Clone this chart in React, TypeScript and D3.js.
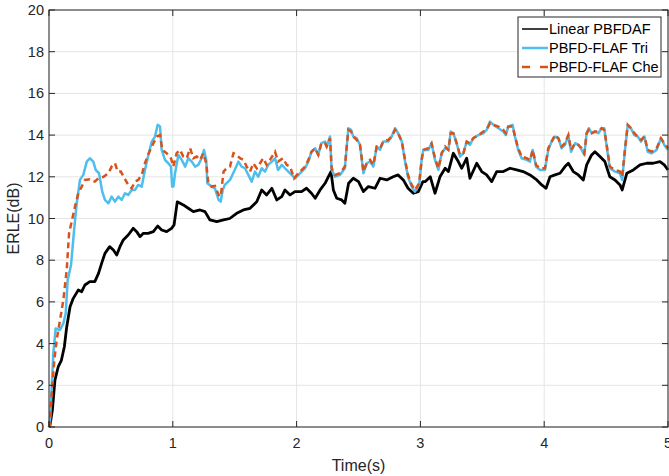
import React from "react";
import * as d3 from "d3";

const xTicks = [0, 1, 2, 3, 4, 5];
const yTicks = [0, 2, 4, 6, 8, 10, 12, 14, 16, 18, 20];
const seriesNames = ["Linear PBFDAF", "PBFD-FLAF Tri", "PBFD-FLAF Che"];

const linear: [number, number][] = [[0,0],[0.008,0.1],[0.027,0.8],[0.048,2.25],[0.075,2.9],[0.10,3.2],[0.124,3.85],[0.143,4.8],[0.17,5.77],[0.196,6.17],[0.237,6.57],[0.264,6.49],[0.29,6.81],[0.33,6.97],[0.37,6.97],[0.40,7.37],[0.425,7.85],[0.452,8.33],[0.49,8.65],[0.52,8.49],[0.547,8.25],[0.573,8.65],[0.60,8.97],[0.64,9.21],[0.68,9.53],[0.708,9.37],[0.735,9.13],[0.762,9.29],[0.80,9.29],[0.843,9.37],[0.878,9.64],[0.91,9.45],[0.95,9.37],[0.99,9.53],[1.01,9.69],[1.036,10.8],[1.085,10.65],[1.125,10.49],[1.166,10.33],[1.22,10.41],[1.26,10.33],[1.30,9.93],[1.355,9.85],[1.41,9.93],[1.46,10.0],[1.516,10.25],[1.57,10.41],[1.624,10.49],[1.678,10.8],[1.718,11.37],[1.758,11.13],[1.80,11.45],[1.84,10.89],[1.88,11.05],[1.906,11.37],[1.947,11.13],[1.987,11.29],[2.04,11.29],[2.08,11.45],[2.12,11.21],[2.15,10.97],[2.19,11.37],[2.23,11.69],[2.256,12.0],[2.278,12.25],[2.297,11.37],[2.324,10.97],[2.364,10.89],[2.39,10.73],[2.42,11.69],[2.458,11.93],[2.5,11.77],[2.54,11.29],[2.58,11.53],[2.633,11.45],[2.674,11.93],[2.728,11.85],[2.78,12.0],[2.82,12.09],[2.862,11.85],[2.90,11.45],[2.943,11.21],[2.983,11.29],[3.02,11.77],[3.04,11.77],[3.08,12.0],[3.118,11.21],[3.158,12.0],[3.20,12.41],[3.226,12.25],[3.266,13.13],[3.306,12.73],[3.334,12.41],[3.374,12.89],[3.40,11.93],[3.455,12.65],[3.495,12.25],[3.535,12.09],[3.576,11.77],[3.616,12.25],[3.67,12.25],[3.724,12.41],[3.778,12.33],[3.83,12.25],[3.885,12.09],[3.94,11.85],[3.98,11.61],[4.015,11.45],[4.047,12.0],[4.087,12.09],[4.128,12.17],[4.168,12.49],[4.195,12.65],[4.235,12.25],[4.276,12.09],[4.316,11.85],[4.343,12.57],[4.383,13.05],[4.41,13.2],[4.45,12.97],[4.49,12.73],[4.53,12.0],[4.572,11.85],[4.612,11.61],[4.63,11.37],[4.667,12.17],[4.72,12.33],[4.774,12.57],[4.828,12.65],[4.88,12.65],[4.935,12.73],[4.97,12.57],[5.0,12.33]];

const tri: [number, number][] = [[0,0],[0.008,0.34],[0.022,1.93],[0.035,3.53],[0.054,4.73],[0.089,4.65],[0.116,4.97],[0.135,5.45],[0.151,7.05],[0.178,7.77],[0.205,9.6],[0.224,10.73],[0.25,11.85],[0.277,12.09],[0.305,12.73],[0.33,12.89],[0.358,12.73],[0.377,12.33],[0.404,12.17],[0.43,11.29],[0.452,10.89],[0.48,10.73],[0.506,11.05],[0.533,10.81],[0.56,11.05],[0.587,10.89],[0.614,11.21],[0.64,11.13],[0.668,11.37],[0.695,11.37],[0.72,11.61],[0.749,11.53],[0.775,12.33],[0.80,12.97],[0.83,13.69],[0.856,13.93],[0.878,14.49],[0.897,14.41],[0.91,13.29],[0.937,12.81],[0.964,12.65],[0.985,12.49],[0.995,11.53],[1.005,11.53],[1.018,12.17],[1.045,13.05],[1.072,12.81],[1.1,12.49],[1.125,12.89],[1.153,12.73],[1.18,12.49],[1.206,12.57],[1.233,12.89],[1.252,13.29],[1.27,12.81],[1.279,11.69],[1.314,11.53],[1.34,11.45],[1.37,10.89],[1.387,10.81],[1.403,11.37],[1.42,11.61],[1.462,11.85],[1.50,12.33],[1.53,12.73],[1.556,12.49],[1.583,12.41],[1.61,12.09],[1.637,11.77],[1.664,12.25],[1.69,12.0],[1.718,12.41],[1.745,12.25],[1.77,12.57],[1.8,12.73],[1.826,12.89],[1.85,12.33],[1.88,12.57],[1.906,12.41],[1.933,12.25],[1.96,12.09],[1.987,11.93],[2.027,12.17],[2.068,12.41],[2.095,12.73],[2.12,13.2],[2.15,13.37],[2.175,13.05],[2.2,13.61],[2.23,13.69],[2.243,13.45],[2.27,13.93],[2.283,12.33],[2.31,12.0],[2.35,12.09],[2.39,12.41],[2.405,13.45],[2.418,14.33],[2.44,14.25],[2.458,13.93],[2.485,13.85],[2.512,13.53],[2.54,12.17],[2.566,12.65],[2.593,12.73],[2.62,12.49],[2.647,13.45],[2.674,13.29],[2.70,13.69],[2.74,13.69],[2.768,13.93],[2.795,14.33],[2.82,14.09],[2.85,13.69],[2.876,12.73],[2.90,12.0],[2.93,11.53],[2.956,11.29],[2.99,11.61],[3.01,12.81],[3.024,13.29],[3.064,13.29],[3.09,13.61],[3.118,12.81],[3.145,12.33],[3.172,13.13],[3.2,13.37],[3.226,13.29],[3.245,14.17],[3.266,14.09],[3.293,13.61],[3.32,12.97],[3.347,13.13],[3.374,13.69],[3.40,13.53],[3.427,13.85],[3.468,14.0],[3.508,14.09],[3.535,14.25],[3.562,14.65],[3.59,14.49],[3.63,14.33],[3.67,14.17],[3.69,14.0],[3.71,14.41],[3.745,14.49],[3.764,13.93],[3.79,13.29],[3.818,12.89],[3.858,12.81],[3.885,12.73],[3.907,13.29],[3.934,12.49],[3.966,12.33],[4.006,12.33],[4.033,13.29],[4.06,13.69],[4.087,13.93],[4.114,13.85],[4.141,13.37],[4.168,13.53],[4.195,14.0],[4.217,13.2],[4.25,13.61],[4.276,13.53],[4.303,13.29],[4.324,13.05],[4.343,14.09],[4.36,14.33],[4.383,14.09],[4.41,14.17],[4.437,14.09],[4.464,14.33],[4.485,14.33],[4.505,13.45],[4.53,12.41],[4.572,12.25],[4.612,12.17],[4.63,11.85],[4.653,13.29],[4.675,14.49],[4.70,14.33],[4.728,14.0],[4.755,13.93],[4.782,13.69],[4.81,13.93],[4.836,13.2],[4.868,13.13],[4.908,13.29],[4.943,13.85],[4.97,13.53],[5.0,13.29]];

const che: [number, number][] = [[0,0],[0.008,0.1],[0.022,1.61],[0.043,3.21],[0.062,4.17],[0.089,5.13],[0.116,6.09],[0.143,7.53],[0.162,9.29],[0.183,9.85],[0.21,10.57],[0.237,11.21],[0.264,11.53],[0.29,11.85],[0.33,11.88],[0.37,11.77],[0.40,11.93],[0.44,12.0],[0.48,12.17],[0.506,12.49],[0.533,12.65],[0.555,12.25],[0.58,12.25],[0.61,11.93],[0.64,11.61],[0.668,11.45],[0.695,11.77],[0.72,11.85],[0.749,12.09],[0.775,12.65],[0.80,13.05],[0.83,13.45],[0.87,13.93],[0.897,14.0],[0.915,13.29],[0.95,13.13],[0.985,12.89],[1.004,12.49],[1.031,13.13],[1.058,13.29],[1.085,12.97],[1.112,12.89],[1.14,13.37],[1.166,12.89],[1.193,12.97],[1.22,12.81],[1.246,13.13],[1.27,12.65],[1.287,11.69],[1.314,11.53],[1.34,11.56],[1.37,11.13],[1.387,11.05],[1.41,12.25],[1.435,12.41],[1.462,12.49],[1.49,13.13],[1.516,13.05],[1.543,12.89],[1.57,12.81],[1.597,12.49],[1.624,12.25],[1.65,12.65],[1.678,12.41],[1.705,12.65],[1.73,12.89],[1.758,12.57],[1.785,12.81],[1.826,13.2],[1.85,12.73],[1.89,12.89],[1.92,12.57],[1.947,12.49],[1.98,11.93],[2.014,12.17],[2.068,12.49],[2.095,12.81],[2.12,13.2],[2.15,13.37],[2.175,13.05],[2.2,13.61],[2.23,13.61],[2.243,13.45],[2.27,13.85],[2.283,12.41],[2.31,12.09],[2.35,12.17],[2.39,12.49],[2.405,13.45],[2.418,14.25],[2.44,14.17],[2.458,13.93],[2.485,13.77],[2.512,13.53],[2.54,12.25],[2.566,12.65],[2.593,12.81],[2.62,12.57],[2.647,13.45],[2.674,13.37],[2.70,13.69],[2.74,13.77],[2.768,13.93],[2.795,14.25],[2.82,14.09],[2.85,13.69],[2.876,12.81],[2.90,12.09],[2.93,11.61],[2.956,11.37],[2.99,11.69],[3.01,12.81],[3.024,13.29],[3.064,13.37],[3.09,13.61],[3.118,12.89],[3.145,12.41],[3.172,13.13],[3.2,13.45],[3.226,13.29],[3.245,14.09],[3.266,14.09],[3.293,13.61],[3.32,13.05],[3.347,13.13],[3.374,13.69],[3.40,13.61],[3.427,13.85],[3.468,14.0],[3.508,14.17],[3.535,14.25],[3.562,14.57],[3.59,14.49],[3.63,14.41],[3.67,14.25],[3.69,14.09],[3.71,14.41],[3.745,14.41],[3.764,13.93],[3.79,13.37],[3.818,12.97],[3.858,12.89],[3.885,12.81],[3.907,13.29],[3.934,12.57],[3.966,12.41],[4.006,12.41],[4.033,13.37],[4.06,13.69],[4.087,14.0],[4.114,13.85],[4.141,13.45],[4.168,13.61],[4.195,14.0],[4.217,13.29],[4.25,13.61],[4.276,13.53],[4.303,13.37],[4.324,13.13],[4.343,14.09],[4.36,14.25],[4.383,14.09],[4.41,14.17],[4.437,14.17],[4.464,14.33],[4.485,14.25],[4.505,13.53],[4.53,12.49],[4.572,12.33],[4.612,12.25],[4.63,12.0],[4.653,13.37],[4.675,14.49],[4.70,14.33],[4.728,14.09],[4.755,13.93],[4.782,13.77],[4.81,13.93],[4.836,13.29],[4.868,13.21],[4.908,13.37],[4.943,13.85],[4.97,13.61],[5.0,13.37]];

const W = 669;
const H = 476;
const M = { left: 49, right: 1, top: 10, bottom: 49 };
const FONT = "'Liberation Sans', Arial, Helvetica, sans-serif";
const AX = "#262626";

export default function App() {
  const x = d3.scaleLinear().domain([0, 5]).range([M.left, W - M.right]);
  const y = d3.scaleLinear().domain([0, 20]).range([H - M.bottom, M.top]);
  const line = d3.line<[number, number]>().x((d) => x(d[0])).y((d) => y(d[1]));
  const x0 = x(0), x1 = x(5), y0 = y(0), y1 = y(20);
  const tl = 6;
  const colors = ["#000000", "#4DBEEE", "#D95319"];
  const lx = 518, ly = 17, lw = 143, lh = 60;
  return (
    <svg width={W} height={H} style={{ position: "absolute", left: 0, top: 0, background: "#fff" }} fontFamily={FONT}>
      <rect x={0} y={0} width={W} height={H} fill="#fff" />
      {xTicks.map((t) => (
        <line key={"gx" + t} x1={x(t)} x2={x(t)} y1={y0} y2={y1} stroke="#e5e5e5" strokeWidth={1} />
      ))}
      {yTicks.map((t) => (
        <line key={"gy" + t} x1={x0} x2={x1} y1={y(t)} y2={y(t)} stroke="#e5e5e5" strokeWidth={1} />
      ))}
      <path d={line(linear) || ""} fill="none" stroke={colors[0]} strokeWidth={2.8} strokeLinejoin="round" />
      <path d={line(tri) || ""} fill="none" stroke={colors[1]} strokeWidth={2.5} strokeLinejoin="round" />
      <path d={line(che) || ""} fill="none" stroke={colors[2]} strokeWidth={2.5} strokeDasharray="6,4" />
      <rect x={x0} y={y1} width={x1 - x0} height={y0 - y1} fill="none" stroke={AX} strokeWidth={1} />
      {xTicks.map((t) => (
        <g key={"tx" + t}>
          <line x1={x(t)} x2={x(t)} y1={y0} y2={y0 - tl} stroke={AX} />
          <line x1={x(t)} x2={x(t)} y1={y1} y2={y1 + tl} stroke={AX} />
          <text x={x(t)} y={y0 + 21} textAnchor="middle" fontSize={14.5} fill={AX}>{t}</text>
        </g>
      ))}
      {yTicks.map((t) => (
        <g key={"ty" + t}>
          <line x1={x0} x2={x0 + tl} y1={y(t)} y2={y(t)} stroke={AX} />
          <line x1={x1} x2={x1 - tl} y1={y(t)} y2={y(t)} stroke={AX} />
          <text x={x0 - 5} y={y(t) + 5} textAnchor="end" fontSize={14.5} fill={AX}>{t}</text>
        </g>
      ))}
      <text x={(x0 + x1) / 2} y={471} textAnchor="middle" fontSize={16} fill={AX}>Time(s)</text>
      <text transform={`translate(19,${(y0 + y1) / 2}) rotate(-90)`} textAnchor="middle" fontSize={16} fill={AX}>ERLE(dB)</text>
      <rect x={lx} y={ly} width={lw} height={lh} fill="#fff" stroke={AX} strokeWidth={1} />
      {seriesNames.map((n, i) => (
        <g key={n}>
          <line x1={lx + 4} x2={lx + 30} y1={ly + 12 + i * 19} y2={ly + 12 + i * 19} stroke={colors[i]}
            strokeWidth={i === 0 ? 1.5 : 2.5} strokeDasharray={i === 2 ? "8,10" : undefined} />
          <text x={lx + 31} y={ly + 17 + i * 19} fontSize={14.5} fill="#000">{n}</text>
        </g>
      ))}
    </svg>
  );
}
